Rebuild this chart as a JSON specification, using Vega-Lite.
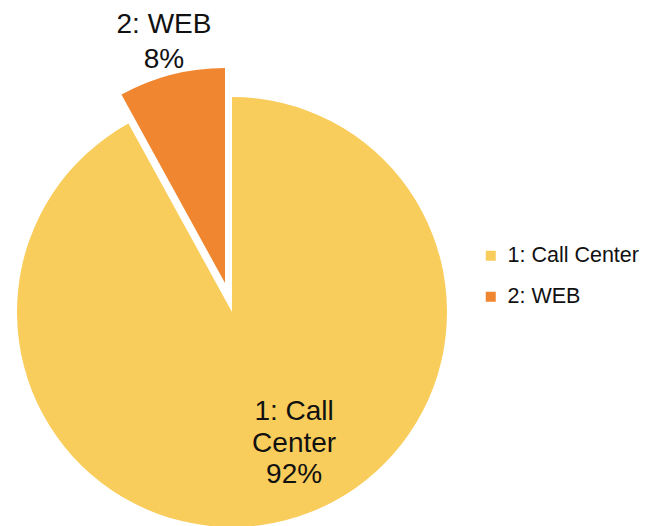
{
  "$schema": "https://vega.github.io/schema/vega-lite/v6.json",
  "width": 432,
  "height": 428,
  "autosize": "none",
  "padding": {"left": 16, "top": 98, "right": 200, "bottom": 0},
  "background": "white",
  "data": {"values": [
    {"cat": "1: Call Center", "value": 92, "label": "1: Call\nCenter\n92%"},
    {"cat": "2: WEB", "value": 8, "label": "2: WEB\n8%"}
  ]},
  "transform": [
    {"stack": "value", "groupby": [], "sort": [{"field": "cat", "order": "ascending"}], "as": ["v0", "v1"]}
  ],
  "config": {"view": {"stroke": null}},
  "layer": [
    {
      "transform": [{"filter": "datum.cat === '1: Call Center'"}],
      "mark": {"type": "arc", "radius": 215},
      "encoding": {
        "theta": {"field": "v0", "type": "quantitative", "scale": {"domain": [0, 100]}},
        "theta2": {"field": "v1"},
        "color": {"field": "cat", "type": "nominal",
          "scale": {"domain": ["1: Call Center", "2: WEB"], "range": ["#F9CD5B", "#F0862F"]},
          "legend": {"title": null, "orient": "none", "legendX": 464, "legendY": 147,
            "symbolType": "square", "symbolSize": 100, "labelFont": "Liberation Sans",
            "labelFontSize": 21.5, "labelColor": "#111", "rowPadding": 18, "labelOffset": 6}}
      }
    },
    {
      "transform": [{"filter": "datum.cat === '2: WEB'"}],
      "mark": {"type": "arc", "radius": 215, "xOffset": -7, "yOffset": -29},
      "encoding": {
        "theta": {"field": "v0", "type": "quantitative", "scale": {"domain": [0, 100]}},
        "theta2": {"field": "v1"},
        "color": {"field": "cat", "type": "nominal"}
      }
    },
    {
      "transform": [{"filter": "datum.cat === '2: WEB'"}],
      "mark": {"type": "text", "radius": 295, "thetaOffset": 0.270, "lineBreak": "\n",
        "font": "Liberation Sans", "fontSize": 28, "lineHeight": 35, "color": "#111",
        "align": "center", "baseline": "middle"},
      "encoding": {
        "theta": {"field": "v0", "type": "quantitative", "scale": {"domain": [0, 100]}},
        "text": {"field": "label"}
      }
    },
    {
      "transform": [{"filter": "datum.cat === '1: Call Center'"}],
      "mark": {"type": "text", "radius": 118, "thetaOffset": 2.587, "lineBreak": "\n",
        "font": "Liberation Sans", "fontSize": 28, "lineHeight": 31.5, "color": "#111",
        "align": "center", "baseline": "middle"},
      "encoding": {
        "theta": {"field": "v0", "type": "quantitative", "scale": {"domain": [0, 100]}},
        "text": {"field": "label"}
      }
    }
  ]
}
